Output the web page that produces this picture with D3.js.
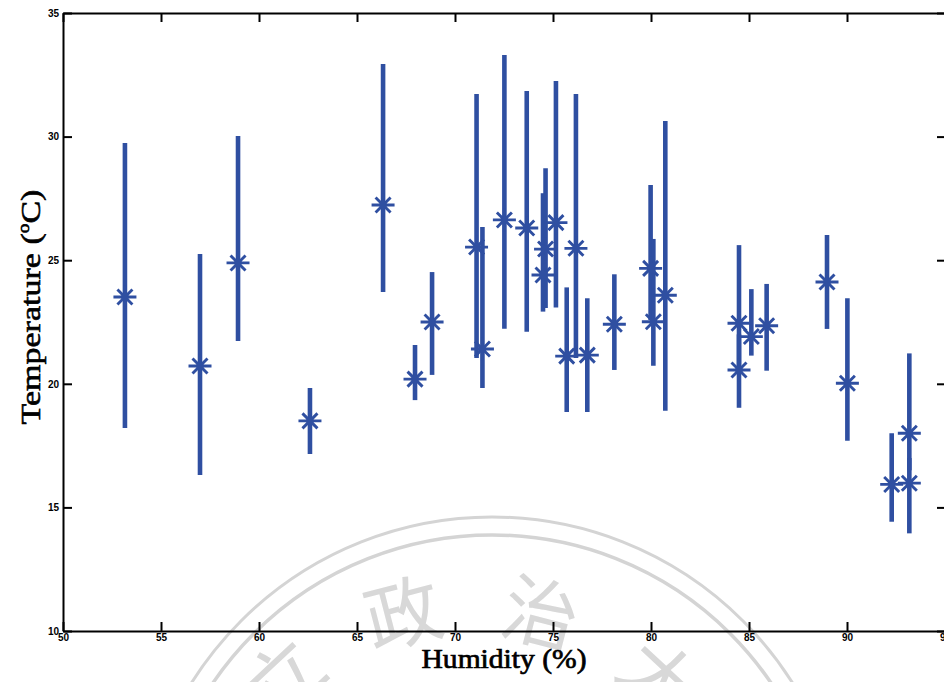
<!DOCTYPE html>
<html>
<head>
<meta charset="utf-8">
<script src="https://cdn.jsdelivr.net/npm/d3@7"></script>
<style>
  html, body { margin: 0; padding: 0; background: #fff; }
  svg { display: block; }
</style>
</head>
<body>
<svg id="chart" width="944" height="682"></svg>
<script>
// ---- Data ----
const humidity = [53.16, 56.99, 58.93, 62.60, 66.33, 67.96, 68.83, 71.10, 71.40, 72.52,
                  73.66, 74.49, 74.62, 75.15, 75.70, 76.17, 76.75, 78.13, 79.98, 80.12,
                  80.73, 84.49, 84.49, 85.12, 85.90, 88.98, 90.02, 92.28, 93.18, 93.18];
const temperature = [23.51, 20.72, 24.89, 18.50, 27.23, 20.19, 22.50, 25.53, 21.41, 26.63,
                     26.30, 24.40, 25.45, 26.52, 21.12, 25.48, 21.16, 22.41, 24.67, 22.51,
                     23.58, 22.45, 20.56, 21.91, 22.35, 24.12, 20.02, 15.93, 18.00, 15.98];
const tempHigh = [29.74, 25.25, 30.02, 19.83, 32.94, 21.57, 24.52, 31.72, 26.34, 33.30,
                  31.84, 27.71, 28.72, 32.25, 23.90, 31.72, 23.46, 24.43, 28.04, 25.86,
                  30.63, 25.61, 22.00, 23.83, 24.04, 26.02, 23.46, 18.00, 21.23, 17.00];
const tempLow = [18.21, 16.31, 21.73, 17.16, 23.71, 19.34, 20.36, 21.04, 19.83, 22.23,
                 22.11, 22.92, 23.07, 23.09, 18.86, 21.04, 18.86, 20.56, 22.58, 20.73,
                 18.91, 20.60, 19.03, 21.14, 20.53, 22.22, 17.70, 14.42, 16.50, 13.95];
const xTicks = [50, 55, 60, 65, 70, 75, 80, 85, 90, 95];
const yTicks = [10, 15, 20, 25, 30, 35];
const xLabel = "Humidity (%)";
const yLabelMain = "Temperature (";
const yLabelSup = "o";
const yLabelEnd = "C)";
const watermarkChars = ["立", "政", "治", "大"];

// ---- Layout ----
const svg = d3.select("#chart");
const color = "#2f4fa1";
const x = d3.scaleLinear().domain([50, 95]).range([63, 945]);
const y = d3.scaleLinear().domain([10, 35]).range([631, 13]);

// ---- Watermark (faint seal) ----
const wm = svg.append("g").attr("fill", "none").attr("stroke", "#d4d4d4");
wm.append("circle").attr("cx", 492).attr("cy", 872).attr("r", 355).attr("stroke-width", 3);
wm.append("circle").attr("cx", 492).attr("cy", 872).attr("r", 337).attr("stroke-width", 3.5);
const angles = [-43, -14.5, 14.5, 43];
watermarkChars.forEach((c, i) => {
  const a = angles[i] * Math.PI / 180, r = 280, cx = 472, cy = 880;
  const px = cx + r * Math.sin(a), py = cy - r * Math.cos(a);
  svg.append("text")
    .attr("transform", `translate(${px},${py}) rotate(${angles[i]})`)
    .attr("text-anchor", "middle")
    .attr("dominant-baseline", "central")
    .attr("font-family", "'Noto Sans CJK TC','Noto Sans CJK SC',sans-serif")
    .attr("font-size", 76)
    .attr("fill", "#d8d8d8")
    .text(c);
});

// ---- Axes ----
const axisStyle = g => {
  g.selectAll(".domain").attr("stroke", "#000").attr("stroke-width", 2);
  g.selectAll(".tick line").attr("stroke", "#000").attr("stroke-width", 2);
  g.selectAll(".tick text").attr("fill", "#000")
    .attr("font-family", "'Liberation Sans', Arial, sans-serif")
    .attr("font-weight", "bold").attr("font-size", 10);
};
svg.append("g").attr("transform", "translate(0,631)")
  .call(d3.axisBottom(x).tickValues(xTicks).tickFormat(d3.format("d")).tickSizeInner(-9).tickSizeOuter(0).tickPadding(3))
  .call(axisStyle);
svg.append("g").attr("transform", "translate(0,13)")
  .call(d3.axisTop(x).tickValues(xTicks).tickFormat("").tickSizeInner(-9).tickSizeOuter(0))
  .call(axisStyle);
svg.append("g").attr("transform", "translate(63,0)")
  .call(d3.axisLeft(y).tickValues(yTicks).tickFormat(d3.format("d")).tickSizeInner(-9).tickSizeOuter(0).tickPadding(4))
  .call(axisStyle);
svg.append("g").attr("transform", "translate(945,0)")
  .call(d3.axisRight(y).tickValues(yTicks).tickFormat("").tickSizeInner(-8).tickSizeOuter(0))
  .call(axisStyle);

// ---- Error bars and markers ----
const data = humidity.map((h, i) => ({h, t: temperature[i], hi: tempHigh[i], lo: tempLow[i]}));
svg.append("g").selectAll("line").data(data).join("line")
  .attr("x1", d => x(d.h)).attr("x2", d => x(d.h))
  .attr("y1", d => y(d.hi)).attr("y2", d => y(d.lo))
  .attr("stroke", color).attr("stroke-width", 4.6);

const s = 11.5, dgl = 7.5;
const starPath = `M${-s},0L${s},0M0,${-s}L0,${s}M${-dgl},${-dgl}L${dgl},${dgl}M${-dgl},${dgl}L${dgl},${-dgl}`;
svg.append("g").selectAll("path").data(data).join("path")
  .attr("transform", d => `translate(${x(d.h)},${y(d.t)})`)
  .attr("d", starPath)
  .attr("fill", "none").attr("stroke", color).attr("stroke-width", 2.9);

// ---- Axis titles ----
const xt = svg.append("text")
  .attr("font-family", "'Liberation Serif','Times New Roman',serif")
  .attr("font-size", 27).attr("fill", "#000")
  .attr("stroke", "#000").attr("stroke-width", 0.7)
  .attr("text-anchor", "middle")
  .text(xLabel);
const xw = xt.node().getComputedTextLength();
xt.attr("transform", `translate(504,668) scale(${165 / xw},1)`);

const yt = svg.append("text")
  .attr("font-family", "'Liberation Serif','Times New Roman',serif")
  .attr("font-size", 28).attr("fill", "#000")
  .attr("stroke", "#000").attr("stroke-width", 0.6)
  .attr("text-anchor", "middle");
yt.append("tspan").text(yLabelMain);
yt.append("tspan").attr("font-size", 16).attr("dy", -11).text(yLabelSup);
yt.append("tspan").attr("dy", 11).text(yLabelEnd);
const yw = yt.node().getComputedTextLength();
yt.attr("transform", `translate(40,307) rotate(-90) scale(${235 / yw},1)`);
</script>
</body>
</html>
